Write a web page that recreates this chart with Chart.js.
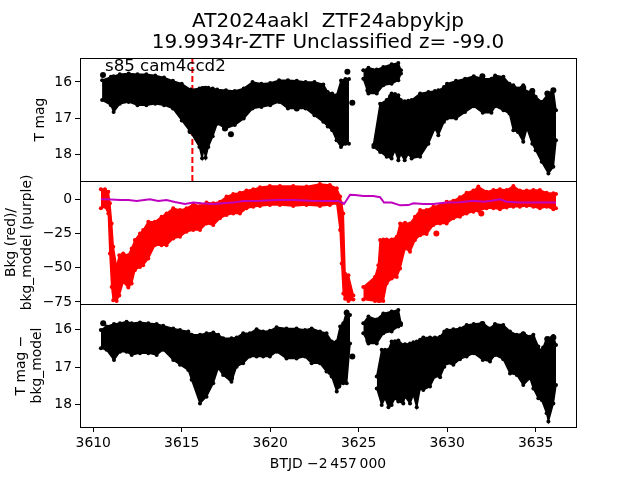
<!DOCTYPE html>
<html>
<head>
<meta charset="utf-8">
<script src="https://cdn.jsdelivr.net/npm/chart.js@4"></script>
<style>
  html, body { margin: 0; padding: 0; background: #fff; }
  canvas { display: block; }
</style>
</head>
<body>
<canvas id="myChart" width="640" height="480"></canvas>
<script>
// time ticks and axis ticks
var xTickValues = [3610, 3615, 3620, 3625, 3630, 3635];
var magTickValues = [16, 17, 18];
var bkgTickValues = [0, -25, -50, -75];

// top panel, T mag: edges of the black cloud
var topTimesA = [3610.5, 3611, 3611.15, 3611.5, 3612, 3612.5, 3613, 3613.5, 3614, 3614.5, 3615, 3615.5, 3616, 3616.15, 3616.25, 3616.35, 3616.5, 3616.75, 3617, 3617.5, 3618, 3618.5, 3619, 3619.5, 3620, 3620.5, 3621, 3621.5, 3622, 3622.5, 3623, 3623.25, 3623.5, 3623.75, 3624, 3624.25, 3624.45];
var topUpperA = [15.95, 15.86, 15.84, 15.79, 15.77, 15.79, 15.79, 15.82, 15.88, 15.97, 16.05, 16.21, 16.18, 16.17, 16.17, 16.16, 16.16, 16.18, 16.21, 16.23, 16.25, 16.18, 16.0, 16.05, 16.03, 15.95, 15.95, 15.97, 16.0, 16.0, 16.07, 16.28, 16.32, 16.37, 15.96, 15.92, 15.92];
var topLowerA = [16.5, 16.64, 16.83, 16.6, 16.55, 16.64, 16.64, 16.6, 16.64, 16.73, 17.06, 17.38, 17.79, 18.1, 17.85, 18.09, 17.79, 17.5, 17.15, 17.28, 17.19, 17.01, 16.73, 16.69, 16.64, 16.55, 16.73, 16.73, 16.73, 16.92, 17.1, 17.23, 17.33, 17.61, 17.79, 17.7, 17.7];
var topTimesB = [3625.26, 3625.55, 3626.02, 3626.39, 3626.86, 3627.24, 3627.39];
var topUpperB = [15.68, 15.61, 15.66, 15.59, 15.51, 15.48, 15.68];
var topLowerB = [15.91, 16.32, 16.32, 16.09, 16.05, 15.95, 15.77];
var topTimesC = [3625.83, 3626.21, 3626.58, 3626.86, 3627.05, 3627.24, 3627.38, 3627.6, 3627.8, 3627.99, 3628.47, 3628.94, 3629.31, 3629.5, 3629.82, 3629.99, 3630.5, 3631.01, 3631.5, 3632.01, 3632.5, 3632.71, 3633.18, 3633.52, 3633.74, 3634.0, 3634.3, 3634.51, 3634.81, 3635, 3635.34, 3635.72, 3636, 3636.15];
var topUpperC = [17.74, 16.6, 16.5, 16.32, 16.33, 16.37, 16.5, 16.53, 16.52, 16.5, 16.32, 16.28, 16.25, 16.23, 16.14, 16.05, 15.97, 15.91, 15.84, 15.91, 15.91, 15.82, 15.86, 16.05, 16.09, 16.18, 16.09, 16.28, 16.23, 16.41, 16.55, 16.32, 16.23, 16.78];
var topLowerC = [17.79, 17.93, 18.06, 18.11, 17.88, 18.16, 17.99, 18.16, 17.98, 18.11, 18.06, 17.7, 17.28, 17.47, 17.1, 17.01, 17.01, 16.83, 16.67, 16.85, 16.85, 16.67, 16.78, 16.87, 17.33, 17.38, 17.65, 17.28, 17.7, 17.88, 18.2, 18.52, 18.34, 17.61];
var topOutTimes = [3610.55, 3615.5, 3617.44, 3617.78, 3621.5, 3624.36, 3624.64, 3625.55, 3626.83, 3631.99, 3634.3, 3634.81, 3635.47, 3635.66, 3636];
var topOutMags = [15.81, 17.36, 17.28, 17.44, 16.73, 15.72, 16.57, 16.23, 16.41, 15.84, 16.16, 16.25, 16.57, 16.32, 16.23];

// middle panel: background, red cloud edges and the purple model
var bkgTimesA = [3610.43, 3610.66, 3610.85, 3610.94, 3611.04, 3611.13, 3611.32, 3611.47, 3611.69, 3611.98, 3612.17, 3612.35, 3612.64, 3612.82, 3613.11, 3613.48, 3613.86, 3614.14, 3614.52, 3614.9, 3615.27, 3615.65, 3616.03, 3616.4, 3616.78, 3617.16, 3617.53, 3617.91, 3618.29, 3618.66, 3619.04, 3619.42, 3619.98, 3620.55, 3621.3, 3622.05, 3622.81, 3623.37, 3623.76, 3623.95, 3624.04, 3624.13, 3624.23, 3624.42, 3624.7];
var bkgUpperA = [7.3, 7.3, 5.6, -2.9, -17.6, -34.7, -49.4, -40.8, -39.6, -40.8, -35.9, -29.8, -24.9, -22.5, -16.4, -16.4, -12.7, -10.3, -6.6, -7.8, -6.6, -3.4, -4.9, -2.4, -2.9, -1.7, 2.0, 3.9, 4.9, 6.4, 7.3, 8.8, 9.8, 9.8, 9.8, 9.3, 11.2, 10.5, 8.1, 2.0, -2.9, -10.3, -54.3, -55.5, -70.2];
var bkgLowerA = [-6.6, -5.4, -10.3, -39.6, -64.1, -73.8, -74.3, -70.2, -60.4, -64.5, -61.6, -51.8, -49.4, -48.2, -43.3, -33.5, -33.5, -33.5, -28.6, -27.4, -23.7, -22.5, -22.5, -17.6, -18.8, -13.9, -11.5, -10.3, -10.3, -6.6, -5.4, -4.9, -4.2, -4.2, -4.9, -4.2, -4.9, -4.2, -2.9, -22.5, -46.9, -68.9, -72.6, -74.3, -73.3];
var bkgTimesB = [3625.26, 3625.92, 3626.11, 3626.21, 3626.39, 3626.58, 3626.86, 3627.15, 3627.34, 3627.62, 3627.9, 3628.18, 3628.47, 3628.84, 3629.22, 3629.6, 3629.97, 3630.35, 3630.72, 3631.1, 3631.48, 3631.76, 3632.23, 3632.61, 3632.98, 3633.36, 3633.74, 3634.11, 3634.49, 3634.87, 3635.24, 3635.62, 3636, 3636.15];
var bkgUpperB = [-64.1, -56.7, -48.2, -29.8, -29.3, -29.3, -29.3, -27.4, -17.6, -17.1, -17.6, -12.7, -7.8, -7.8, -5.4, -4.2, -1.7, -1.0, 1.5, 4.9, 6.4, 9.3, 5.6, 6.8, 7.3, 6.8, 9.8, 6.4, 6.4, 6.8, 6.8, 4.9, 4.4, 3.9];
var bkgLowerB = [-73.3, -74.3, -74.3, -74.3, -74.3, -61.6, -57.9, -56.7, -50.6, -35.9, -38.4, -29.8, -26.2, -25.4, -18.8, -17.6, -17.6, -13.9, -12.7, -10.3, -9.0, -8.3, -6.6, -6.6, -7.3, -5.9, -5.4, -5.4, -4.9, -5.4, -6.6, -5.4, -7.3, -6.6];
var bkgOutTimes = [3629.39, 3631.93];
var bkgOutValues = [-24.9, -10.3];
var modelTimes = [3610.43, 3610.75, 3611.51, 3611.98, 3612.45, 3613.2, 3613.67, 3614.14, 3614.61, 3615.18, 3615.65, 3616.12, 3616.78, 3617.34, 3617.91, 3618.47, 3619.42, 3620.36, 3621.3, 3622.24, 3623.37, 3623.85, 3624.17, 3624.32, 3624.51, 3624.79, 3625.26, 3625.83, 3626.21, 3626.43, 3626.86, 3627.34, 3627.81, 3628.09, 3628.65, 3629.22, 3629.97, 3630.72, 3631.48, 3632.04, 3632.51, 3632.98, 3633.36, 3634.11, 3635.06, 3636.15];
var modelValues = [0, 0, -0.5, -0.5, -1.2, 0, -1.2, -0.5, -2, -3.4, -2.4, -2.9, -3.4, -2.9, -2.4, -1.2, -1, -0.5, -0.5, -1, -1.2, -1.2, -3.4, -0.5, 3.4, 3.2, 2.4, 2.4, 1.5, -2.4, -2.4, -4.4, -4.2, -2.9, -3.4, -3.4, -2.4, -2.2, -1, -1.7, -1, 0, -1.7, -2.4, -2.4, -2.4];

// bottom panel, T mag - bkg_model
var lowTimesA = [3610.43, 3610.75, 3611.17, 3611.51, 3611.88, 3612.17, 3612.64, 3613.11, 3613.58, 3613.95, 3614.52, 3614.9, 3615.37, 3615.56, 3616.03, 3616.4, 3616.78, 3617.06, 3617.34, 3617.81, 3618.1, 3618.47, 3618.85, 3619.23, 3619.6, 3619.98, 3620.36, 3620.92, 3621.49, 3621.96, 3622.34, 3622.81, 3623.18, 3623.47, 3623.76, 3623.95, 3624.13, 3624.32, 3624.51];
var lowUpperA = [16.0, 15.91, 15.84, 15.82, 15.78, 15.82, 15.8, 15.82, 15.84, 15.89, 15.96, 16.0, 16.04, 16.13, 16.13, 16.09, 16.07, 16.13, 16.22, 16.22, 16.2, 16.09, 16.09, 15.98, 16.04, 16.02, 15.93, 15.96, 15.96, 16.0, 15.96, 16.04, 16.09, 16.31, 16.31, 15.91, 15.82, 15.51, 15.6];
var lowLowerA = [16.49, 16.53, 16.8, 16.58, 16.58, 16.67, 16.62, 16.62, 16.67, 16.53, 16.8, 16.93, 17.07, 17.33, 17.96, 17.78, 17.42, 17.02, 17.2, 17.38, 16.98, 16.89, 16.71, 16.71, 16.71, 16.71, 16.58, 16.76, 16.76, 16.71, 16.89, 16.89, 17.11, 17.24, 17.64, 17.42, 17.42, 17.42, 16.36];
var lowTimesB = [3625.26, 3625.55, 3626.02, 3626.39, 3626.86, 3627.24, 3627.39];
var lowUpperB = [15.82, 15.64, 15.72, 15.56, 15.51, 15.47, 15.82];
var lowLowerB = [16.09, 16.36, 16.36, 16.09, 16.04, 15.91, 15.87];
var lowTimesC = [3626.02, 3626.3, 3626.49, 3626.68, 3626.86, 3627.05, 3627.24, 3627.52, 3627.62, 3627.9, 3628.09, 3628.28, 3628.47, 3628.65, 3629.03, 3629.31, 3629.6, 3629.84, 3629.99, 3630.35, 3630.72, 3631.1, 3631.5, 3632.01, 3632.42, 3632.7, 3633.17, 3633.55, 3633.93, 3634.3, 3634.68, 3634.87, 3635.15, 3635.34, 3635.62, 3635.72, 3636, 3636.15];
var lowUpperC = [17.24, 16.53, 16.53, 16.53, 16.31, 16.3, 16.28, 16.4, 16.38, 16.36, 16.33, 16.31, 16.26, 16.2, 16.2, 16.2, 16.18, 16.04, 16.0, 15.98, 15.96, 15.87, 15.84, 15.82, 15.96, 15.84, 15.87, 16.04, 16.13, 16.09, 16.18, 16.13, 16.44, 16.58, 16.22, 16.22, 16.16, 16.4];
var lowLowerC = [17.56, 18.0, 17.82, 18.06, 18.0, 17.82, 17.91, 17.96, 17.78, 17.96, 17.73, 18.06, 17.56, 17.6, 17.51, 17.24, 17.26, 16.98, 16.89, 16.93, 16.78, 16.71, 16.62, 16.8, 16.84, 16.67, 16.78, 17.16, 17.2, 17.47, 17.29, 17.56, 17.82, 17.87, 18.22, 18.44, 17.96, 17.47];
var lowOutTimes = [3610.56, 3617.44, 3617.78, 3621.53, 3623.85, 3624.32, 3624.64, 3625.55, 3631.99, 3634.3, 3634.81, 3635.47, 3635.66, 3636];
var lowOutMags = [15.82, 17.11, 17.29, 16.69, 17.49, 15.54, 16.71, 16.28, 15.84, 16.12, 16.2, 16.49, 16.25, 16.2];

// vertical marker in the top panel
var markerTimes = [3615.6, 3615.6];
var markerMags = [15.34, 18.73];

var noteText = 's85 cam4ccd2';
var noteTime = 3610.66;
var noteMag = 15.7;

var fontName = '"DejaVu Sans", sans-serif';

function points(xs, ys) {
    return xs.map(function (x, i) { return { x: x, y: ys[i] }; });
}

// the two edges of a cloud, filled between each other
function cloud(xs, upper, lower, color, axis) {
    return [
        { data: points(xs, upper), yAxisID: axis, borderColor: color, backgroundColor: color, borderWidth: 1.5, pointRadius: 2, pointBackgroundColor: color, pointBorderWidth: 0, fill: '+1' },
        { data: points(xs, lower), yAxisID: axis, borderColor: color, backgroundColor: color, borderWidth: 1.5, pointRadius: 2, pointBackgroundColor: color, pointBorderWidth: 0, fill: false }
    ];
}

function dots(xs, ys, color, axis) {
    return { data: points(xs, ys), yAxisID: axis, showLine: false, pointRadius: 3, borderWidth: 0, pointBorderWidth: 0, pointBackgroundColor: color, backgroundColor: color };
}

var datasets = [].concat(
    { data: points(modelTimes, modelValues), yAxisID: 'yBkg', borderColor: '#bf00bf', backgroundColor: '#bf00bf', borderWidth: 2, pointRadius: 0, fill: false },
    cloud(topTimesA, topUpperA, topLowerA, '#000', 'yTop'),
    cloud(topTimesB, topUpperB, topLowerB, '#000', 'yTop'),
    cloud(topTimesC, topUpperC, topLowerC, '#000', 'yTop'),
    dots(topOutTimes, topOutMags, '#000', 'yTop'),
    { data: points(markerTimes, markerMags), yAxisID: 'yTop', borderColor: '#f00', borderWidth: 2, borderDash: [6, 3], pointRadius: 0, fill: false },
    cloud(bkgTimesA, bkgUpperA, bkgLowerA, '#f00', 'yBkg'),
    cloud(bkgTimesB, bkgUpperB, bkgLowerB, '#f00', 'yBkg'),
    dots(bkgOutTimes, bkgOutValues, '#f00', 'yBkg'),
    cloud(lowTimesA, lowUpperA, lowLowerA, '#000', 'yLow'),
    cloud(lowTimesB, lowUpperB, lowLowerB, '#000', 'yLow'),
    cloud(lowTimesC, lowUpperC, lowLowerC, '#000', 'yLow'),
    dots(lowOutTimes, lowOutMags, '#000', 'yLow')
);

function fixedTicks(values) {
    return function (scale) {
        scale.ticks = values.map(function (v) { return { value: v }; });
    };
}

function yAxis(min, max, reversed, values, title, titlePad) {
    return {
        type: 'linear',
        position: 'left',
        stack: 'panels',
        stackWeight: 1,
        reverse: reversed,
        min: min,
        max: max,
        afterBuildTicks: fixedTicks(values),
        afterFit: function (scale) { scale.width = 64; },
        grid: { drawOnChartArea: false, tickLength: 5, tickColor: '#000', tickWidth: 1 },
        border: { display: false },
        ticks: {
            color: '#000',
            padding: 3,
            font: { family: fontName, size: 13.9 },
            callback: function (v) { return String(v).replace('-', '\u2212'); }
        },
        title: {
            display: true,
            text: title,
            color: '#000',
            font: { family: fontName, size: 13.9, lineHeight: 1.17 },
            padding: { top: titlePad, bottom: 0 }
        }
    };
}

// panel frames and the note text
var frames = {
    id: 'frames',
    afterDatasetsDraw: function (chart) {
        var ctx = chart.ctx;
        ctx.save();
        ctx.strokeStyle = '#000';
        ctx.lineWidth = 1;
        ['yTop', 'yBkg', 'yLow'].forEach(function (id) {
            var s = chart.scales[id];
            ctx.strokeRect(chart.chartArea.left + 0.5, s.top + 0.5, chart.chartArea.width, s.height);
        });
        ctx.fillStyle = '#000';
        ctx.font = '16.67px ' + fontName;
        ctx.fillText(noteText, chart.scales.x.getPixelForValue(noteTime), chart.scales.yTop.getPixelForValue(noteMag));
        ctx.restore();
    }
};

var ctx = document.getElementById('myChart').getContext('2d');

var lightCurve = new Chart(ctx, {
    type: 'line',
    data: { datasets: datasets },
    plugins: [frames],
    options: {
        responsive: false,
        animation: false,
        devicePixelRatio: 1,
        elements: { line: { tension: 0 } },
        // left padding plus the empty right axis centre the title over the panels
        layout: { padding: { left: 16, right: 0, top: 0, bottom: 0 } },
        plugins: {
            legend: { display: false },
            tooltip: { enabled: false },
            title: {
                display: true,
                text: ['AT2024aakl  ZTF24abpykjp', '19.9934r-ZTF Unclassified z= -99.0'],
                color: '#000',
                font: { family: fontName, size: 20, weight: 'normal', lineHeight: 1.05 },
                padding: { top: 11, bottom: 5 }
            }
        },
        scales: {
            x: {
                type: 'linear',
                min: 3609.25,
                max: 3637.28,
                afterBuildTicks: fixedTicks(xTickValues),
                afterFit: function (scale) { scale.height = 53; },
                grid: { drawOnChartArea: false, tickLength: 5, tickColor: '#000', tickWidth: 1 },
                border: { display: false },
                ticks: {
                    color: '#000',
                    padding: 3,
                    maxRotation: 0,
                    font: { family: fontName, size: 13.9 },
                    callback: function (v) { return String(v); }
                },
                title: {
                    display: true,
                    text: 'BTJD \u22122\u2009457\u2009000',
                    color: '#000',
                    font: { family: fontName, size: 13.9 },
                    padding: { top: 0, bottom: 7 }
                }
            },
            // stacked axes fill from the bottom up
            yLow: yAxis(15.31, 18.59, true, magTickValues, ['T mag \u2212', 'bkg_model'], -3),
            yBkg: yAxis(-76.5, 13.4, false, bkgTickValues, ['Bkg (red)/', 'bkg_model (purple)'], -13),
            yTop: yAxis(15.34, 18.73, true, magTickValues, 'T mag', 16),
            ySpacer: {
                type: 'linear',
                position: 'right',
                afterFit: function (scale) { scale.width = 64; },
                grid: { display: false },
                border: { display: false },
                ticks: { display: false }
            }
        }
    }
});
</script>
</body>
</html>
